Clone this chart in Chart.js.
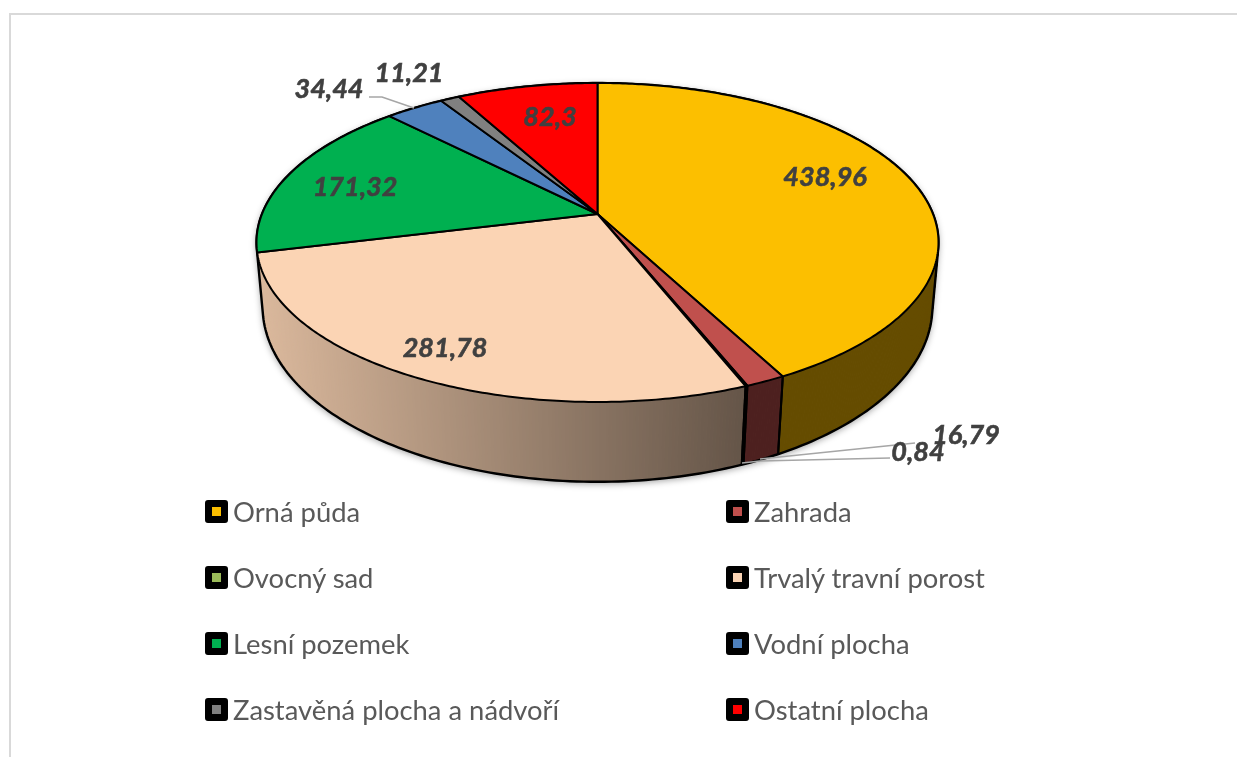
<!DOCTYPE html>
<html>
<head>
<meta charset="utf-8">
<title>Druhy pozemků</title>
<script src="https://cdn.jsdelivr.net/npm/chart.js@4"></script>
<style>
  html, body { margin: 0; padding: 0; background: #fff; overflow: hidden; }
  #wrap { position: relative; width: 1237px; height: 757px; }
  #frame { position: absolute; left: 9px; top: 13px; right: -5px; bottom: -5px; border: 2px solid #d9d9d9; }
  canvas { position: absolute; left: 0; top: 0; }
  .item { position: absolute; font: 27.4px Lato, sans-serif; color: #595959; line-height: 30px; white-space: nowrap; }
  .box { position: absolute; width: 9px; height: 9px; border: 7.5px solid #000; border-radius: 3px; }
</style>
</head>
<body>
<div id="wrap">
  <div id="frame"></div>
  <canvas id="pie" width="1237" height="757"></canvas>
  <div id="legend"></div>
</div>
<script>
const categories = ["Orná půda", "Zahrada", "Ovocný sad", "Trvalý travní porost", "Lesní pozemek", "Vodní plocha", "Zastavěná plocha a nádvoří", "Ostatní plocha"];
const values = [438.96, 16.79, 0.84, 281.78, 171.32, 34.44, 11.21, 82.3];
const valueLabels = ["438,96", "16,79", "0,84", "281,78", "171,32", "34,44", "11,21", "82,3"];
const colors = ["#FCBF00", "#C0504D", "#9BBB59", "#FBD4B4", "#00B050", "#4F81BD", "#808080", "#FF0000"];

// perspective of the tilted disc: a = half width, b = half height, k = foreshortening
const topRim = { a: 335.5, b: 154.4, k: 0.1787, dy: 0 };
const bottomRim = { a: 330, b: 170, k: 0.17, dy: 63 };

function rimPoint(arc, rim, angle) {
  const u = Math.cos(angle), v = Math.sin(angle), w = 1 - rim.k * v;
  return { x: arc.x + rim.a * u / w, y: arc.y + rim.dy + rim.b * v / w };
}

// draw each slice as a projected wedge instead of a flat circle sector
Chart.ArcElement.prototype.draw = function (ctx) {
  const o = this.options;
  ctx.save();
  ctx.beginPath();
  ctx.moveTo(this.x, this.y);
  const steps = Math.max(2, Math.ceil((this.endAngle - this.startAngle) * 90));
  for (let i = 0; i <= steps; i++) {
    const p = rimPoint(this, topRim, this.startAngle + (this.endAngle - this.startAngle) * i / steps);
    ctx.lineTo(p.x, p.y);
  }
  ctx.closePath();
  ctx.fillStyle = o.backgroundColor;
  ctx.fill();
  ctx.lineJoin = "round";
  ctx.lineWidth = o.borderWidth;
  ctx.strokeStyle = o.borderColor;
  ctx.stroke();
  ctx.restore();
};

function shade(hex, x) {
  const t = (x - 258) / (745 - 258);
  const f = Math.min(0.87, Math.max(0.4, 0.87 - 0.47 * t));
  const n = parseInt(hex.slice(1), 16);
  return `rgb(${Math.round((n >> 16) * f)},${Math.round(((n >> 8) & 255) * f)},${Math.round((n & 255) * f)})`;
}

function hull(points) {
  const pts = points.slice().sort((p, q) => p.x - q.x || p.y - q.y);
  const cross = (o, p, q) => (p.x - o.x) * (q.y - o.y) - (p.y - o.y) * (q.x - o.x);
  const half = (list) => {
    const out = [];
    list.forEach((p) => {
      while (out.length > 1 && cross(out[out.length - 2], out[out.length - 1], p) <= 0) out.pop();
      out.push(p);
    });
    out.pop();
    return out;
  };
  return half(pts).concat(half(pts.slice().reverse()));
}

const wallPlugin = {
  id: "wall",
  beforeDatasetsDraw(chart) {
    const ctx = chart.ctx;
    const arcs = chart.getDatasetMeta(0).data;
    const first = arcs[0];

    // outline of the whole body, with the soft shadow under it
    const pts = [];
    for (let i = 0; i < 360; i++) {
      const a = i * Math.PI / 180;
      pts.push(rimPoint(first, topRim, a), rimPoint(first, bottomRim, a));
    }
    const outline = hull(pts);
    const trace = () => {
      ctx.beginPath();
      outline.forEach((p, i) => (i ? ctx.lineTo(p.x, p.y) : ctx.moveTo(p.x, p.y)));
      ctx.closePath();
    };
    ctx.save();
    ctx.shadowColor = "rgba(0,0,0,0.4)";
    ctx.shadowBlur = 7;
    ctx.shadowOffsetY = 2;
    trace();
    // the sliver left of the front wall takes the colour of the wall next to it
    ctx.fillStyle = shade(colors[3], 258);
    ctx.fill();
    ctx.restore();

    // wall strips
    arcs.forEach((arc, idx) => {
      const mid = (arc.startAngle + arc.endAngle) / 2;
      if (Math.cos(mid) < 0 && Math.sin(mid) < 0) return; // back left, hidden
      const steps = Math.max(1, Math.ceil((arc.endAngle - arc.startAngle) * 120));
      for (let i = 0; i < steps; i++) {
        const a0 = arc.startAngle + (arc.endAngle - arc.startAngle) * i / steps;
        const a1 = arc.startAngle + (arc.endAngle - arc.startAngle) * (i + 1) / steps;
        if (Math.sin(a0) < -0.2 && Math.sin(a1) < -0.2) continue;
        const p0 = rimPoint(arc, topRim, a0), p1 = rimPoint(arc, topRim, a1);
        const q0 = rimPoint(arc, bottomRim, a0), q1 = rimPoint(arc, bottomRim, a1);
        ctx.beginPath();
        ctx.moveTo(p0.x, p0.y);
        ctx.lineTo(p1.x, p1.y);
        ctx.lineTo(q1.x, q1.y);
        ctx.lineTo(q0.x, q0.y);
        ctx.closePath();
        const c = shade(colors[idx], (p0.x + p1.x) / 2);
        ctx.fillStyle = c;
        ctx.strokeStyle = c;
        ctx.lineWidth = 1;
        ctx.fill();
        ctx.stroke();
      }
    });

    // slice edges running down the wall
    ctx.strokeStyle = "#000";
    ctx.lineWidth = 2;
    arcs.forEach((arc) => {
      [arc.startAngle, arc.endAngle].forEach((a) => {
        if (Math.sin(a) <= 0 || Math.cos(a) <= 0) return;
        const p = rimPoint(arc, topRim, a), q = rimPoint(arc, bottomRim, a);
        ctx.beginPath();
        ctx.moveTo(p.x, p.y);
        ctx.lineTo(q.x, q.y);
        ctx.stroke();
      });
    });

    trace();
    ctx.lineWidth = 2.4;
    ctx.stroke();
  },
};

// leader lines and value labels, in the same order as values
const labelCentres = [[825, 177], [966, 435], [918, 452], [445, 348], [355, 187], [329, 89], [409, 73], [550, 117]];
const leaders = [
  [[760, 459], [915, 443]],
  [[742, 463], [760, 461], [890, 458]],
  [[369, 97], [382, 97], [414, 108]],
];

const labelPlugin = {
  id: "valueLabels",
  afterDatasetsDraw(chart) {
    const ctx = chart.ctx;
    ctx.save();
    ctx.strokeStyle = "#a6a6a6";
    ctx.lineWidth = 1.7;
    leaders.forEach((line) => {
      ctx.beginPath();
      line.forEach((p, i) => (i ? ctx.lineTo(p[0], p[1]) : ctx.moveTo(p[0], p[1])));
      ctx.stroke();
    });
    ctx.font = "italic bold 27px Lato, sans-serif";
    ctx.fillStyle = "#404040";
    ctx.strokeStyle = "#404040";
    ctx.lineWidth = 0.6;
    ctx.textAlign = "center";
    ctx.textBaseline = "middle";
    valueLabels.forEach((t, i) => {
      ctx.fillText(t, labelCentres[i][0], labelCentres[i][1]);
      ctx.strokeText(t, labelCentres[i][0], labelCentres[i][1]);
    });
    ctx.restore();
  },
};

new Chart(document.getElementById("pie").getContext("2d"), {
  type: "pie",
  data: {
    labels: categories,
    datasets: [{ data: values, backgroundColor: colors, borderColor: "#000", borderWidth: 2 }],
  },
  options: {
    responsive: false,
    animation: false,
    events: [],
    // puts the apex of the pie where the reference has it
    layout: { padding: { right: 42, bottom: 329 } },
    plugins: { legend: { display: false }, tooltip: { enabled: false } },
  },
  plugins: [wallPlugin, labelPlugin],
});

// two column legend
const legend = document.getElementById("legend");
categories.forEach((name, i) => {
  const col = i % 2, row = Math.floor(i / 2);
  const top = 512 + row * 66;
  const box = document.createElement("div");
  box.className = "box";
  box.style.left = (205 + col * 521) + "px";
  box.style.top = (top - 12) + "px";
  box.style.background = colors[i];
  const text = document.createElement("div");
  text.className = "item";
  text.textContent = name;
  text.style.left = (233 + col * 521) + "px";
  text.style.top = (top - 15) + "px";
  legend.appendChild(box);
  legend.appendChild(text);
});
</script>
</body>
</html>
